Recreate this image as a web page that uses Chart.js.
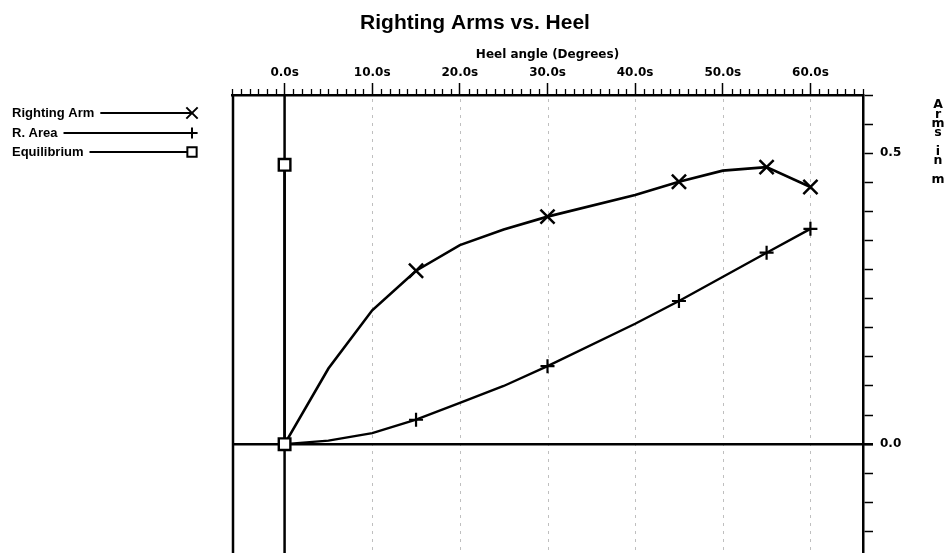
<!DOCTYPE html>
<html>
<head>
<meta charset="utf-8">
<script src="https://cdn.jsdelivr.net/npm/chart.js@4/dist/chart.umd.min.js"></script>
<style>
  html, body { margin: 0; padding: 0; background: #fff; overflow: hidden; }
  canvas { display: block; }
</style>
</head>
<body>
<canvas id="c" width="950" height="553"></canvas>
<script>
// ---- data ----
const heelDeg      = [0, 5, 10, 15, 20, 25, 30, 40, 45, 50, 55, 60];
const rightingArm  = [0, 0.130, 0.230, 0.298, 0.342, 0.369, 0.391, 0.428, 0.451, 0.470, 0.476, 0.442];
const areaDeg      = [0, 5, 10, 15, 20, 25, 30, 40, 45, 55, 60];
const rightingArea = [0, 0.006, 0.019, 0.042, 0.071, 0.100, 0.134, 0.207, 0.246, 0.329, 0.370];
const equilibriumDeg = [0, 0];
const equilibriumVal = [0, 0.480];
const markerDeg    = [15, 30, 45, 55, 60];

const xMajorTicks  = [0, 10, 20, 30, 40, 50, 60];
const yTicks       = [-0.15, -0.1, -0.05, 0, 0.05, 0.1, 0.15, 0.2, 0.25, 0.3, 0.35, 0.4, 0.45, 0.5, 0.55, 0.6];
const yTickLabels  = { '0': '0.0', '0.5': '0.5' };
const seriesNames  = ['Righting Arm', 'R. Area', 'Equilibrium'];
const rightTitleChars = ['A', 'r', 'm', 's', '', 'i', 'n', '', 'm'];

const SMALL = 'DejaVu Sans';
const BIG = 'Liberation Sans';

function pts(xs, ys) { return xs.map((x, i) => ({ x: x, y: ys[i] })); }
function radii(xs, r) { return xs.map(x => markerDeg.includes(x) ? r : 0); }

const markStyles = [
  { pointStyle: 'crossRot', radius: 10, borderWidth: 2.5 },
  { pointStyle: 'cross', radius: 7, borderWidth: 2.2 },
  { pointStyle: 'rect', radius: 8.2, borderWidth: 2.4 }
];

const decorPlugin = {
  id: 'decor',
  beforeDatasetsDraw(chart) {
    const { ctx, chartArea: a, scales: { x, y } } = chart;
    ctx.save();
    // faint dotted grid
    ctx.strokeStyle = 'rgba(0,0,0,0.25)';
    ctx.lineWidth = 1;
    ctx.setLineDash([3, 5]);
    xMajorTicks.forEach(v => {
      if (v === 0) return;
      const px = Math.round(x.getPixelForValue(v)) + 0.5;
      ctx.beginPath(); ctx.moveTo(px, a.top + 4); ctx.lineTo(px, a.bottom); ctx.stroke();
    });
    ctx.setLineDash([]);
    // zero lines
    ctx.strokeStyle = '#000';
    ctx.lineWidth = 2.5;
    const x0 = x.getPixelForValue(0);
    const y0 = y.getPixelForValue(0);
    ctx.beginPath(); ctx.moveTo(x0, a.top); ctx.lineTo(x0, a.bottom); ctx.stroke();
    ctx.beginPath(); ctx.moveTo(a.left, y0); ctx.lineTo(a.right + 10, y0); ctx.stroke();
    // left frame
    ctx.beginPath(); ctx.moveTo(a.left + 1, a.top); ctx.lineTo(a.left + 1, a.bottom); ctx.stroke();
    ctx.restore();
  },
  afterDraw(chart) {
    const { ctx, chartArea: a, scales: { x } } = chart;
    ctx.save();
    // minor ticks on top axis (every degree)
    ctx.strokeStyle = '#000';
    ctx.lineWidth = 1.3;
    for (let d = Math.ceil(x.min); d <= Math.floor(x.max); d++) {
      if (xMajorTicks.includes(d)) continue;
      const px = Math.round(x.getPixelForValue(d)) + 0.5;
      ctx.beginPath(); ctx.moveTo(px, a.top); ctx.lineTo(px, a.top - 6); ctx.stroke();
    }
    // legend at left
    const rows = [113, 133, 152];
    const lineEnd = 192;
    ctx.font = 'bold 13px "' + BIG + '"';
    ctx.fillStyle = '#000';
    ctx.textBaseline = 'middle';
    ctx.textAlign = 'left';
    seriesNames.forEach((name, i) => {
      const ty = rows[i];
      ctx.fillText(name, 12, ty);
      const w = ctx.measureText(name).width;
      ctx.strokeStyle = '#000';
      ctx.lineWidth = 2;
      ctx.beginPath(); ctx.moveTo(12 + w + 6, ty); ctx.lineTo(lineEnd, ty); ctx.stroke();
      ctx.fillStyle = i === 2 ? '#fff' : '#000';
      Chart.helpers.drawPoint(ctx, { pointStyle: markStyles[i].pointStyle, radius: markStyles[i].radius * 0.8, borderWidth: markStyles[i].borderWidth, rotation: 0 }, lineEnd, ty);
      ctx.fillStyle = '#000';
    });
    // stacked right axis title
    ctx.font = 'bold 12.5px "' + SMALL + '"';
    ctx.textAlign = 'center';
    ctx.textBaseline = 'middle';
    rightTitleChars.forEach((ch, i) => {
      if (ch) ctx.fillText(ch, 938, 105 + i * 9.3);
    });
    ctx.restore();
  }
};

new Chart(document.getElementById('c'), {
  type: 'scatter',
  data: {
    datasets: [
      {
        label: seriesNames[2],
        data: pts(equilibriumDeg, equilibriumVal),
        xAxisID: 'x', yAxisID: 'y',
        showLine: true,
        borderColor: '#000', backgroundColor: '#fff',
        borderWidth: 2.5,
        pointStyle: 'rect', pointRadius: markStyles[2].radius, pointBorderWidth: markStyles[2].borderWidth,
        pointBackgroundColor: '#fff', pointBorderColor: '#000',
        order: 0
      },
      {
        label: seriesNames[0],
        data: pts(heelDeg, rightingArm),
        xAxisID: 'x', yAxisID: 'y',
        showLine: true, tension: 0,
        borderColor: '#000', backgroundColor: '#000',
        borderWidth: 2.6,
        pointStyle: 'crossRot', pointRadius: radii(heelDeg, markStyles[0].radius), pointBorderWidth: markStyles[0].borderWidth,
        pointBorderColor: '#000',
        order: 1
      },
      {
        label: seriesNames[1],
        data: pts(areaDeg, rightingArea),
        xAxisID: 'x', yAxisID: 'y',
        showLine: true, tension: 0,
        borderColor: '#000', backgroundColor: '#000',
        borderWidth: 2.4,
        pointStyle: 'cross', pointRadius: radii(areaDeg, markStyles[1].radius), pointBorderWidth: markStyles[1].borderWidth,
        pointBorderColor: '#000',
        order: 2
      }
    ]
  },
  options: {
    responsive: false,
    animation: false,
    events: [],
    layout: { padding: 0, autoPadding: false },
    plugins: {
      legend: { display: false },
      tooltip: { enabled: false },
      title: {
        display: true,
        text: 'Righting Arms vs. Heel',
        color: '#000',
        font: { family: BIG, size: 21, weight: 'bold' },
        padding: { top: 11, bottom: 2 }
      }
    },
    scales: {
      x: {
        type: 'linear',
        position: 'top',
        min: -6, max: 66,
        afterBuildTicks: s => { s.ticks = xMajorTicks.map(v => ({ value: v })); },
        afterFit: s => { s.height = 56.8; },
        ticks: {
          callback: v => Number(v).toFixed(1) + 's',
          color: '#000',
          font: { family: SMALL, size: 12, weight: 'bold' },
          padding: 3, maxRotation: 0, autoSkip: false
        },
        grid: { drawOnChartArea: false, tickLength: 12, tickColor: '#000', tickWidth: 1.5 },
        border: { color: '#000', width: 2.5 },
        title: {
          display: true,
          text: 'Heel angle (Degrees)',
          color: '#000',
          font: { family: SMALL, size: 12, weight: 'bold' },
          padding: { top: 9.6, bottom: 2 }
        }
      },
      yl: {
        type: 'linear',
        position: 'left',
        min: 0, max: 1,
        afterFit: s => { s.width = 232; s.paddingTop = 0; s.paddingBottom = 0; },
        ticks: { display: false },
        grid: { display: false, drawTicks: false },
        border: { display: false }
      },
      y: {
        type: 'linear',
        position: 'right',
        min: -0.187, max: 0.6,
        afterBuildTicks: s => { s.ticks = yTicks.map(v => ({ value: v })); },
        afterFit: s => { s.width = 87; s.paddingTop = 0; s.paddingBottom = 0; },
        ticks: {
          callback: v => {
            const k = String(Math.round(v * 100) / 100);
            return yTickLabels[k] !== undefined ? yTickLabels[k] : '';
          },
          color: '#000',
          font: { family: SMALL, size: 12, weight: 'bold', lineHeight: 0.01 },
          padding: 7, autoSkip: false
        },
        grid: { drawOnChartArea: false, tickLength: 10, tickColor: '#000', tickWidth: 1.5 },
        border: { color: '#000', width: 2.5 }
      }
    }
  },
  plugins: [decorPlugin]
});
</script>
</body>
</html>
